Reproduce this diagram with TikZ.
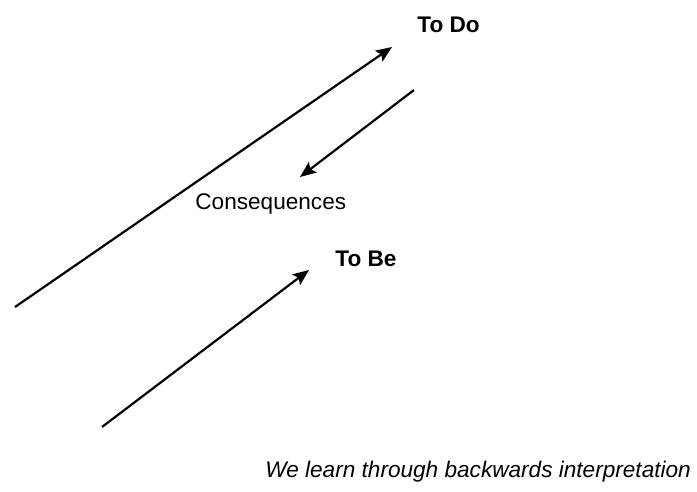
\documentclass[tikz,border=0pt]{standalone}
\usepackage{fontspec}
\setmainfont{Liberation Sans}
\usepackage{tikz}
\usetikzlibrary{arrows.meta,positioning}

\begin{document}
\begin{tikzpicture}[
    x=0.5pt, y=-0.5pt,
    every node/.style={inner sep=0pt, font=\fontsize{11.3}{13}\selectfont},
    stage/.style={font=\fontsize{11.3}{13}\selectfont\bfseries, anchor=base west},
    label/.style={anchor=base west},
    arrow/.style={-{Stealth[length=8pt, width=6.5pt, inset=1.5pt]}, line width=1.1pt},
    ]
    \useasboundingbox (0,0) rectangle (697,492);
    % Texts
    \node[stage] (todo) at (417,33)  {To Do};
    \node[label] (cons) at (195,210) {Consequences};
    \node[stage] (tobe) at (335,266) {To Be};
    \node[label, font=\fontsize{11.3}{13}\selectfont\itshape] (note) at (265,477) {We learn through backwards interpretation};
    % Arrow ends
    \coordinate (doS) at (15,307);
    \coordinate (doE) at (392,47);
    \coordinate (coS) at (414,90);
    \coordinate (coE) at (300,177);
    \coordinate (beS) at (102,427);
    \coordinate (beE) at (309,270);
    % Arrows
    \draw[arrow] (doS) -- (doE);
    \draw[arrow] (coS) -- (coE);
    \draw[arrow] (beS) -- (beE);
\end{tikzpicture}
\end{document}
